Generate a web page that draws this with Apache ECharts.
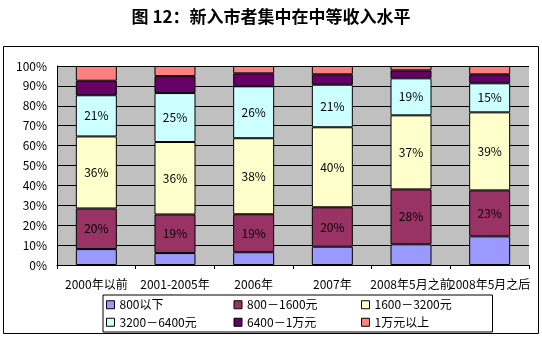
<!DOCTYPE html>
<html><head><meta charset="utf-8">
<script src="https://cdn.jsdelivr.net/npm/echarts@6/dist/echarts.min.js"></script>
<style>html,body{margin:0;padding:0;background:#fff}#c{width:542px;height:337px}</style>
</head><body><div id="c"></div>
<script>
const categories = ['2000年以前', '2001-2005年\n间', '2006年', '2007年', '2008年5月之前', '2008年5月之后'];
const seriesNames = ['800以下', '800－1600元', '1600－3200元', '3200－6400元', '6400－1万元', '1万元以上'];
const below800 = [8.0, 6.0, 6.4, 9.2, 10.4, 14.4];
const s800_1600 = [20.4, 19.4, 19.1, 19.8, 27.6, 23.1];
const s1600_3200 = [36.2, 36.4, 38.2, 40.2, 37.2, 39.2];
const s3200_6400 = [20.7, 24.6, 26.1, 21.4, 18.6, 14.6];
const s6400_10000 = [7.3, 8.5, 6.5, 5.2, 4.0, 4.5];
const above10000 = [7.4, 5.1, 3.7, 4.2, 2.2, 4.2];
const yTicks = [0, 10, 20, 30, 40, 50, 60, 70, 80, 90, 100];
const colors = ['#9999FF', '#993366', '#FFFFCC', '#CCFFFF', '#660066', '#FF8080'];
const seriesData = [below800, s800_1600, s1600_3200, s3200_6400, s6400_10000, above10000];
const labeled = [false, true, true, true, false, false];
const FONT = "SimSun, 'Noto Sans CJK SC', sans-serif";

const chart = echarts.init(document.getElementById('c'), null, {renderer: 'canvas'});
chart.setOption({
  animation: false,
  backgroundColor: '#fff',
  title: {
    text: '图 12：新入市者集中在中等收入水平',
    left: 'center', top: 3,
    textStyle: {fontFamily: FONT, fontSize: 17, fontWeight: 'bold', color: '#000'}
  },
  graphic: [{
    type: 'rect', z: -10,
    shape: {x: 3.5, y: 46.5, width: 535, height: 287},
    style: {fill: 'none', stroke: '#000', lineWidth: 1}
  }],
  grid: {
    left: 57, top: 66, right: 13, bottom: 72,
    show: true, backgroundColor: '#C0C0C0', borderWidth: 0
  },
  legend: {
    data: seriesNames,
    left: 103, top: 295,
    width: 390,
    padding: [1, 4, 1, 3],
    itemGap: 0,
    itemWidth: 8, itemHeight: 8,
    icon: 'rect',
    backgroundColor: '#fff',
    borderColor: '#000', borderWidth: 1,
    itemStyle: {borderColor: '#000', borderWidth: 1},
    textStyle: {fontFamily: FONT, fontSize: 12, color: '#000', width: 114, lineHeight: 17.5, padding: [0,0,0,0]}
  },
  xAxis: {
    type: 'category', data: categories,
    axisLine: {lineStyle: {color: '#000', width: 1}},
    axisTick: {show: true, length: 4, lineStyle: {color: '#000'}},
    axisLabel: {fontFamily: FONT, fontSize: 12, color: '#000', margin: 11, interval: 0, lineHeight: 16}
  },
  yAxis: {
    type: 'value', min: 0, max: 100, interval: 10,
    axisLine: {show: true, lineStyle: {color: '#000'}},
    axisTick: {show: false},
    axisLabel: {fontFamily: FONT, fontSize: 12, color: '#000', margin: 10, formatter: v => yTicks.includes(v) ? v + '%' : ''},
    splitLine: {show: true, lineStyle: {color: '#000', width: 1}}
  },
  series: seriesData.map((d, i) => ({
    name: seriesNames[i], type: 'bar', stack: 'total', data: d,
    barWidth: 41,
    itemStyle: {color: colors[i], borderColor: '#000', borderWidth: 1},
    label: {
      show: labeled[i], position: 'inside',
      fontFamily: FONT, fontSize: 12, color: '#000',
      formatter: p => Math.round(p.value) + '%'
    }
  }))
});
</script></body></html>
